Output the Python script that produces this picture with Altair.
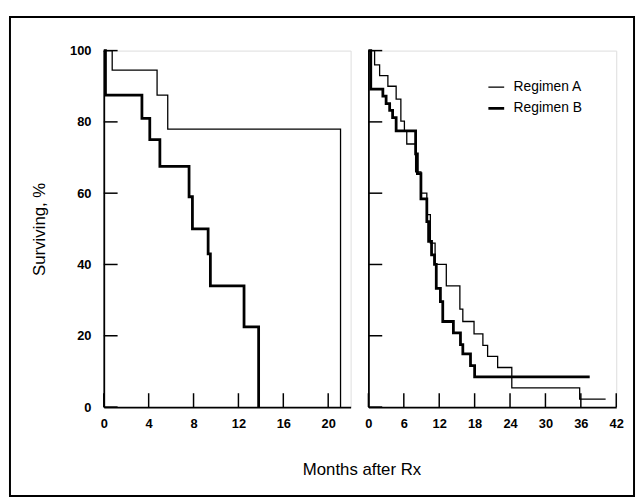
import altair as alt
import pandas as pd

FONT = "Liberation Sans"
regimens = ["Regimen A", "Regimen B"]

# Left panel (months 0-22)
left_a_months = [0, 0.75, 4.75, 5.7, 21.1]
left_a_surv = [100, 94.5, 87.5, 78, 0]
left_b_months = [0, 0.15, 3.4, 4.1, 5.0, 7.6, 7.9, 9.3, 9.5, 12.5, 13.8]
left_b_surv = [100, 87.5, 81, 75, 67.5, 59, 50, 43, 34, 22.5, 0]

# Right panel (months 0-42)
right_a_months = [0, 1.05, 1.9, 3.3, 4.7, 5.5, 6.1, 6.5, 8.0, 8.9, 9.9, 10.5, 11.3,
                  13.2, 15.5, 16.0, 17.9, 19.4, 20.2, 21.9, 24.3, 35.8, 40.2]
right_a_surv = [100, 96, 93, 90, 86.4, 80.2, 77.5, 73.8, 66, 60, 54, 46, 40,
                34, 27.5, 24, 20.5, 17.3, 14.2, 11.1, 5.4, 2.2, 2.2]
right_b_months = [0, 0.4, 2.45, 3.0, 3.6, 4.1, 4.7, 8.0, 8.3, 8.9, 9.9, 10.2, 10.7,
                  11.2, 11.5, 12.2, 12.6, 14.4, 15.6, 16.0, 17.3, 18.0, 37.5]
right_b_surv = [100, 89.2, 87.2, 85.1, 83.2, 81.2, 77.5, 71, 65.5, 58.4, 52, 46.5, 42.7,
                40, 33.3, 29.6, 24, 20.8, 17.5, 14.9, 11.6, 8.5, 8.5]

y_ticks = [0, 20, 40, 60, 80, 100]
left_x_ticks = [0, 4, 8, 12, 16, 20]
right_x_ticks = [0, 6, 12, 18, 24, 30, 36, 42]

H = 361


def frame(months, surv, regimen):
    return pd.DataFrame({"month": months, "surv": surv, "regimen": regimen})


left_df = pd.concat([frame(left_a_months, left_a_surv, regimens[0]),
                     frame(left_b_months, left_b_surv, regimens[1])])
right_df = pd.concat([frame(right_a_months, right_a_surv, regimens[0]),
                      frame(right_b_months, right_b_surv, regimens[1])])

stroke_scale = alt.Scale(domain=regimens, range=[1.3, 2.8])


def panel(df, xmax, xticks, width, left):
    x_axis_kwargs = dict(values=xticks, ticks=False, tickSize=0, grid=False,
                         labelPadding=11, labelFontSize=13, labelFontWeight="bold",
                         labelFont=FONT, labelColor="black", domainWidth=1.8,
                         domainColor="black", labelFlush=False, labelOverlap=False,
                         labelBound=False)
    if left:
        x_axis = alt.Axis(title=None, **x_axis_kwargs)
        y_axis = alt.Axis(values=y_ticks, ticks=False, tickSize=0, grid=False,
                          labelPadding=13, labelFontSize=13, labelFontWeight="bold",
                          labelFont=FONT, labelColor="black", domainWidth=1.8,
                          domainColor="black", title="Surviving, %",
                          titleFont=FONT, titleFontSize=17, titleFontWeight="normal",
                          titleColor="black", titleX=-65, titleY=H / 2,
                          titleAlign="center", titleBaseline="middle")
        legend = None
    else:
        x_axis = alt.Axis(title="Months after Rx", titleFont=FONT, titleFontSize=17,
                          titleFontWeight="normal", titleColor="black",
                          titleX=-7, titleY=63, titleAlign="center",
                          titleBaseline="middle", **x_axis_kwargs)
        y_axis = alt.Axis(values=y_ticks, ticks=False, tickSize=0, grid=False,
                          labels=False, title=None, domainWidth=1.8, domainColor="black")
        legend = alt.Legend(orient="none", legendX=120, legendY=28, title=None,
                            symbolType="stroke", symbolSize=256,
                            symbolStrokeColor="black", labelFont=FONT,
                            labelFontSize=14, labelColor="black", labelOffset=8,
                            padding=0, rowPadding=5)

    xs = alt.Scale(domain=[0, xmax], nice=False, zero=True)
    ys = alt.Scale(domain=[0, 100], nice=False)

    lines = alt.Chart(df).mark_line(interpolate="step-after", color="black",
                                    strokeJoin="miter").encode(
        x=alt.X("month:Q", scale=xs, axis=x_axis),
        y=alt.Y("surv:Q", scale=ys, axis=y_axis),
        strokeWidth=alt.StrokeWidth("regimen:N", scale=stroke_scale, legend=legend),
        detail="regimen:N",
    )

    ytick = alt.Chart(pd.DataFrame({"surv": y_ticks})).mark_rule(
        color="black", strokeWidth=1.5).encode(
        y=alt.Y("surv:Q", scale=ys, axis=y_axis), x=alt.value(0), x2=alt.value(14))
    xtick = alt.Chart(pd.DataFrame({"month": xticks})).mark_rule(
        color="black", strokeWidth=1.5).encode(
        x=alt.X("month:Q", scale=xs, axis=x_axis), y=alt.value(H), y2=alt.value(H - 14))

    layers = [lines, ytick, xtick]
    if left:
        border = alt.Chart(pd.DataFrame({"k": [0]})).mark_rect(
            fillOpacity=0, stroke="black", strokeWidth=2).encode(
            x=alt.value(-95), x2=alt.value(537), y=alt.value(-34), y2=alt.value(451))
        layers = [border] + layers
    return alt.layer(*layers).properties(width=width, height=H)


left_chart = panel(left_df, 22, left_x_ticks, 250, True)
right_chart = panel(right_df, 42, right_x_ticks, 251, False)

chart = alt.hconcat(left_chart, right_chart, spacing=18, bounds="flush").resolve_legend(
    strokeWidth="independent"
).properties(
    padding={"left": 0, "top": 4, "right": 0, "bottom": 0}
).configure_view(stroke=None).configure_axis(
    labelOverlap=False
).configure(background="white")

chart.save("out.html", embed_options={"renderer": "svg", "actions": False})
